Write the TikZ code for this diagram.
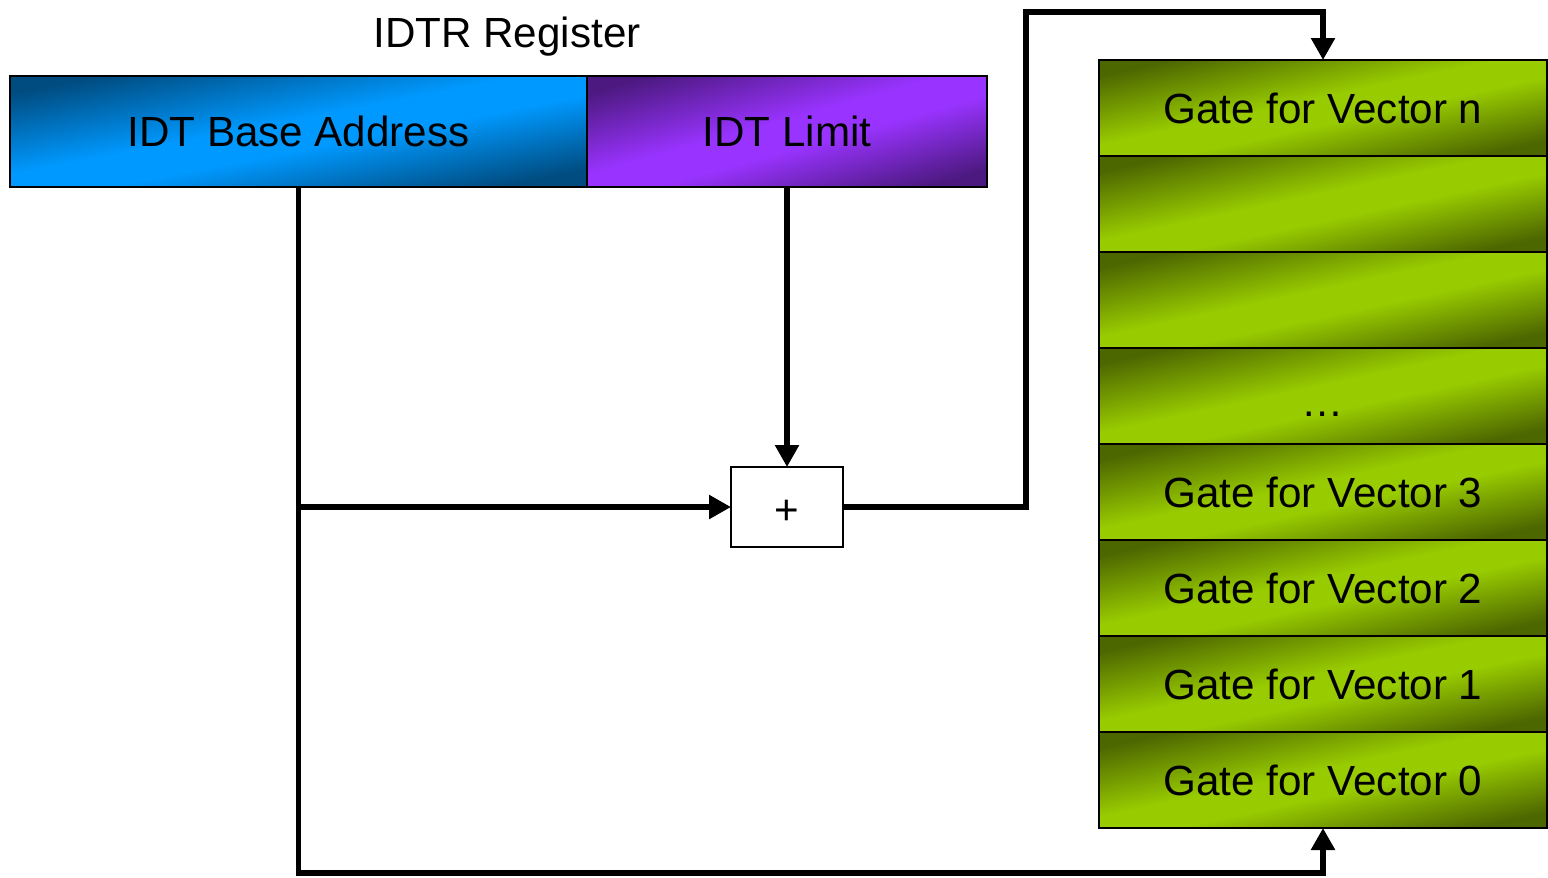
\documentclass[tikz,border=0pt]{standalone}
\usepackage{fontspec}
\setmainfont{Liberation Sans}
\usepackage{tikz}
\usetikzlibrary{arrows.meta,positioning,calc}
\definecolor{idtblue}{RGB}{0,153,255}
\definecolor{idtbluedark}{RGB}{0,76,128}
\definecolor{idtpurple}{RGB}{153,51,255}
\definecolor{idtpurpledark}{RGB}{76,25,128}
\definecolor{idtgreen}{RGB}{153,204,0}
\definecolor{idtgreendark}{RGB}{76,102,0}
\pgfdeclarehorizontalshading{blueshade}{100bp}{color(0bp)=(idtbluedark); color(20bp)=(idtbluedark); color(46bp)=(idtblue); color(56bp)=(idtblue); color(80bp)=(idtbluedark); color(100bp)=(idtbluedark)}
\pgfdeclarehorizontalshading{purpleshade}{100bp}{color(0bp)=(idtpurpledark); color(20bp)=(idtpurpledark); color(46bp)=(idtpurple); color(56bp)=(idtpurple); color(80bp)=(idtpurpledark); color(100bp)=(idtpurpledark)}
\pgfdeclarehorizontalshading{greenshade}{100bp}{color(0bp)=(idtgreendark); color(20bp)=(idtgreendark); color(46bp)=(idtgreen); color(56bp)=(idtgreen); color(80bp)=(idtgreendark); color(100bp)=(idtgreendark)}
% diagonal gradient stretched over a box: shading, center x, center y, width, height
\newcommand{\gradbox}[5]{\shade[shading=#1, shading angle=-45, transform canvas={shift={(#2,#3)}, xscale=#4, yscale=#5}] (-0.5,-0.5) rectangle (0.5,0.5);}

\begin{document}
\begin{tikzpicture}[font=\fontsize{24}{29}\selectfont,
    regbox/.style={rectangle, draw, line width=1.1pt, minimum height=2.22cm, inner sep=0pt, outer sep=0pt},
    gate/.style={rectangle, draw, line width=1.1pt, minimum width=8.96cm, minimum height=1.92cm, inner sep=0pt, outer sep=0pt},
    adder/.style={rectangle, draw, line width=0.8pt, fill=white, minimum width=2.24cm, minimum height=1.6cm, inner sep=0pt, outer sep=0pt},
    bus/.style={line width=3.4pt, -{Triangle[length=0.44cm,width=0.46cm]}}]

    \useasboundingbox (0,0) rectangle (30.96,-17.54);

    % gradient fills
    \gradbox{blueshade}{5.97}{-2.63}{11.54}{2.22}
    \gradbox{purpleshade}{15.74}{-2.63}{8}{2.22}
    \foreach \y in {-2.16,-4.08,-6.00,-7.92,-9.84,-11.76,-13.68,-15.60}
        {\gradbox{greenshade}{26.46}{\y}{8.96}{1.92}}

    \node (title) at (10.14,-0.74) {IDTR Register};
    \node[regbox, minimum width=11.54cm] (base) at (5.97,-2.63) {IDT Base Address};
    \node[regbox, minimum width=8cm] (limit) at (15.74,-2.63) {IDT Limit};

    \node[gate] (gaten) at (26.46,-2.16) {Gate for Vector n};
    \node[gate] (blanka) at (26.46,-4.08) {};
    \node[gate] (blankb) at (26.46,-6.00) {};
    \node[gate] (dots) at (26.46,-7.92) {\raisebox{-0.9ex}[0pt][0pt]{\dots}};
    \node[gate] (gate3) at (26.46,-9.84) {Gate for Vector 3};
    \node[gate] (gate2) at (26.46,-11.76) {Gate for Vector 2};
    \node[gate] (gate1) at (26.46,-13.68) {Gate for Vector 1};
    \node[gate] (gate0) at (26.46,-15.60) {Gate for Vector 0};

    \node[adder] (plus) at (15.74,-10.14) {\raisebox{-10pt}[0pt][0pt]{+}};

    \coordinate (bottom) at (5.97,-17.46);
    \coordinate (riser) at (20.52,-0.24);

    \draw[bus] (base.south) -- (bottom) -| (gate0.south);
    \draw[bus] (base.south |- plus.west) -- (plus.west);
    \draw[bus] (limit.south) -- (plus.north);
    \draw[bus, line join=miter] (plus.east) -| (riser) -| (gaten.north);
\end{tikzpicture}
\end{document}
